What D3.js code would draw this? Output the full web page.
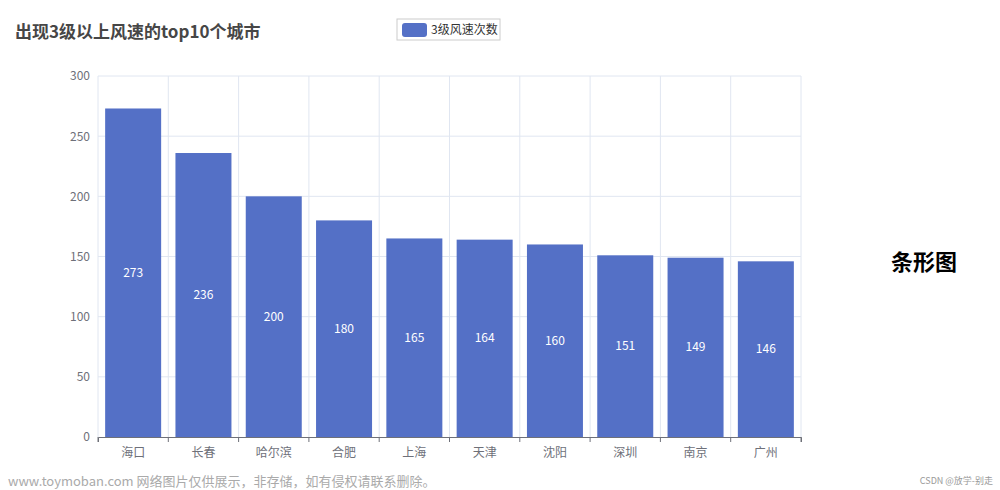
<!DOCTYPE html>
<html><head><meta charset="utf-8">
<script src="https://cdn.jsdelivr.net/npm/d3@7"></script>
<style>body{margin:0;background:#fff;font-family:"Noto Sans CJK SC","Noto Sans",sans-serif;}</style>
</head><body>
<script>
var cities = ["海口","长春","哈尔滨","合肥","上海","天津","沈阳","深圳","南京","广州"];
var counts = [273,236,200,180,165,164,160,151,149,146];
var yTicks = [0,50,100,150,200,250,300];

var svg = d3.select("body").append("svg").attr("width",1000).attr("height",490);
var pLeft = 98, pRight = 801, pTop = 76, pBottom = 437;

var xb = d3.scaleBand().domain(cities).range([pLeft,pRight]);
var y = d3.scaleLinear().domain([0,300]).range([pBottom,pTop]);

// grid
svg.selectAll(".hg").data(yTicks.slice(1)).enter().append("line")
  .attr("x1",pLeft).attr("x2",pRight).attr("y1",d=>y(d)).attr("y2",d=>y(d))
  .attr("stroke","#e0e6f1");
svg.selectAll(".vg").data(cities).enter().append("line")
  .attr("x1",d=>xb(d)+xb.bandwidth()).attr("x2",d=>xb(d)+xb.bandwidth())
  .attr("y1",pTop).attr("y2",pBottom).attr("stroke","#e0e6f1");
svg.append("line").attr("x1",pLeft).attr("x2",pLeft).attr("y1",pTop).attr("y2",pBottom).attr("stroke","#e0e6f1");

// bars
var bw = 56;
svg.selectAll(".bar").data(cities).enter().append("rect")
  .attr("x",d=>xb(d)+(xb.bandwidth()-bw)/2).attr("width",bw)
  .attr("y",(d,i)=>y(counts[i])).attr("height",(d,i)=>pBottom-y(counts[i]))
  .attr("fill","#5470c6");
svg.selectAll(".lbl").data(cities).enter().append("text")
  .attr("x",d=>xb(d)+xb.bandwidth()/2)
  .attr("y",(d,i)=>(y(counts[i])+pBottom)/2+4)
  .attr("text-anchor","middle").attr("fill","#fff").attr("font-size",12)
  .text((d,i)=>counts[i]);

// axes
var xa = svg.append("g").attr("transform","translate(0,"+pBottom+")")
  .call(d3.axisBottom(xb).tickSize(5).tickPadding(6));
xa.select(".domain").attr("stroke","#6e7079");
xa.selectAll(".tick line").remove();
xa.selectAll(".tk").data(d3.range(cities.length+1)).enter().append("line")
  .attr("x1",i=>pLeft+i*xb.bandwidth()).attr("x2",i=>pLeft+i*xb.bandwidth())
  .attr("y1",0).attr("y2",5).attr("stroke","#6e7079");
xa.selectAll("text").attr("fill","#6e7079").attr("font-size",12).attr("font-family","Noto Sans CJK SC");

var ya = svg.append("g").attr("transform","translate("+pLeft+",0)")
  .call(d3.axisLeft(y).tickValues(yTicks).tickSize(0).tickPadding(8));
ya.select(".domain").remove();
ya.selectAll("text").attr("fill","#6e7079").attr("font-size",12).attr("font-family","Noto Sans CJK SC");

// title
svg.append("text").attr("x",15).attr("y",38).attr("font-size",17).attr("font-weight","bold")
  .attr("fill","#464646").text("出现3级以上风速的top10个城市");

// legend
svg.append("rect").attr("x",397).attr("y",19).attr("width",103).attr("height",21)
  .attr("fill","none").attr("stroke","#ccc");
svg.append("rect").attr("x",402).attr("y",23).attr("width",25).attr("height",14).attr("rx",3)
  .attr("fill","#5470c6");
svg.append("text").attr("x",431).attr("y",34).attr("font-size",12).attr("fill","#333").text("3级风速次数");

svg.append("text").attr("x",924).attr("y",270).attr("text-anchor","middle").attr("font-size",22)
  .attr("font-weight","bold").attr("fill","#000").text("条形图");

// watermark
svg.append("text").attr("x",8).attr("y",486).attr("font-size",13).attr("fill","#aaa")
  .text("www.toymoban.com 网络图片仅供展示，非存储，如有侵权请联系删除。");
svg.append("text").attr("x",993).attr("y",484).attr("text-anchor","end").attr("font-size",9).attr("fill","#999")
  .text("CSDN @放学-别走");
</script>
</body></html>
